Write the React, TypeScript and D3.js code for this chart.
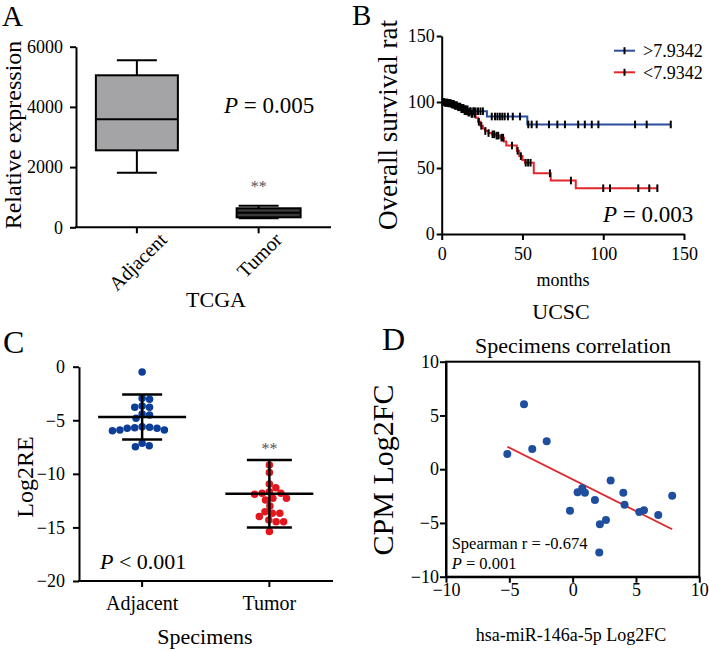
import React, { useEffect, useRef } from 'react';
import * as d3 from 'd3';

// ---------- Panel A: box plot (TCGA) ----------
const boxCategories = ['Adjacent', 'Tumor'];
const boxMin = [1814, 300];
const boxQ1 = [2557, 332];
const boxMedian = [3588, 485];
const boxQ3 = [5050, 632];
const boxMax = [5548, 718];
const boxYTicks = [0, 2000, 4000, 6000];

// ---------- Panel B: Kaplan-Meier (UCSC) ----------
const survLegend = ['>7.9342', '<7.9342'];
const highTimes = [0, 2, 4, 6, 8, 10, 12, 14, 17, 28, 53, 141.8];
const highSurv = [100, 99.5, 99, 98.5, 97.5, 96.5, 95.5, 94.5, 93, 89, 83, 83];
const lowTimes = [0, 2, 4, 6, 8, 10, 12, 14, 16, 18, 21, 22.5, 24, 25.5, 27, 29, 31, 33, 36, 38.5, 40, 46.5, 48, 50, 51.5, 57, 67.5, 83, 133.5];
const lowSurv = [100, 99.5, 99, 98, 97, 96, 94.5, 93, 92, 91, 88, 85, 82, 80, 78, 76.5, 75.5, 74.5, 73, 70, 67, 63, 59, 56, 54, 46, 40.5, 34.7, 34.7];
const highCensor = [0.5, 1, 1.5, 2, 2.5, 3, 3.5, 4, 4.5, 5, 5.5, 6, 7, 7.5, 8, 8.5, 9, 9.5, 10.5, 11, 11.5, 12.5, 13, 13.5, 14.5, 15, 16, 17.5, 18, 19.5, 20, 21, 22.5, 24, 25.5, 31, 33, 34.5, 36, 37.5, 39, 41, 44, 48.5, 53.6, 55.7, 58.8, 66.4, 71.6, 76.3, 84.5, 88.6, 92.9, 97, 119.7, 126.9, 141.8];
const lowCensor = [0.8, 1.3, 2.2, 3, 3.8, 5, 5.8, 6.5, 7.3, 8.2, 9.5, 10.2, 11, 12.2, 12.8, 13.5, 14.2, 15, 15.6, 16.5, 17, 18.5, 19, 20.5, 23, 24.5, 27, 29, 31.5, 32.5, 34, 35, 37, 38, 43.5, 47, 49, 52, 53.5, 55, 67, 80, 100, 104.2, 121.7, 128.5, 133.5];
const survTicks = [0, 50, 100, 150];

// ---------- Panel C: scatter dot plot (Specimens) ----------
const scatterCategories = ['Adjacent', 'Tumor'];
const adjacentValues = [-0.5, -3.04, -2.95, -3.79, -3.79, -3.67, -4.41, -4.5, -4.82, -5.69, -5.75, -5.9, -5.97, -5.9, -5.75, -5.66, -5.6, -7.15, -7.46, -7.37];
const tumorValues = [-9.17, -9.88, -10.94, -11.66, -11.81, -11.9, -11.81, -11.29, -12.28, -12.28, -12.43, -13.0, -13.53, -13.68, -13.99, -13.68, -14.3, -14.46, -14.46, -15.39];
const groupMeans = [-4.7, -11.85];
const groupSDs = [2.1, 3.15];
const scatterYTicks = [0, -5, -10, -15, -20];

// ---------- Panel D: correlation ----------
const corrX = [-5.16, -3.84, -3.19, -2.05, -0.21, 0.39, 0.76, 0.97, 1.76, 2.15, 2.1, 2.63, 3, 4, 4.1, 5.26, 5.63, 6.76, 7.86];
const corrY = [1.41, 6.04, 1.88, 2.59, -3.86, -2.15, -1.78, -2.18, -2.87, -5.13, -7.76, -4.73, -1.04, -2.18, -3.3, -3.98, -3.83, -4.26, -2.46];
const fitIntercept = -0.95;
const fitSlope = -0.59;
const corrTicks = [-10, -5, 0, 5, 10];

const FONT = '"Liberation Serif", "Times New Roman", Times, serif';

function survAt(times: number[], surv: number[], t: number) {
  let s = surv[0];
  for (let i = 0; i < times.length; i++) if (times[i] <= t) s = surv[i];
  return s;
}

function dodge(ys: number[], r: number) {
  const placed: { x: number; y: number }[] = [];
  const sorted = [...ys].sort((a, b) => a - b);
  for (const y of sorted) {
    const cands = [0];
    for (const p of placed) {
      const dy = Math.abs(p.y - y);
      if (dy < 2 * r) {
        const dx = Math.sqrt(4 * r * r - dy * dy);
        cands.push(p.x + dx, p.x - dx);
      }
    }
    cands.sort((a, b) => Math.abs(a) - Math.abs(b));
    for (const c of cands) {
      if (placed.every((p) => (p.x - c) ** 2 + (p.y - y) ** 2 >= 4 * r * r - 1e-3)) {
        placed.push({ x: c, y });
        break;
      }
    }
  }
  return placed;
}

export default function App() {
  const ref = useRef<SVGSVGElement>(null);

  useEffect(() => {
    const root = d3.select(ref.current!);
    root.selectAll('*').remove();
    const svg = root.append('g').attr('font-family', FONT).attr('fill', '#000');

    const text = (x: number, y: number, s: string, size: number, anchor = 'start') =>
      svg.append('text').attr('x', x).attr('y', y).attr('font-size', size).attr('text-anchor', anchor).text(s);

    const pText = (x: number, y: number, rest: string, size: number) => {
      const t = svg.append('text').attr('x', x).attr('y', y).attr('font-size', size);
      t.append('tspan').attr('font-style', 'italic').text('P');
      t.append('tspan').text(rest);
      return t;
    };

    const line = (x1: number, y1: number, x2: number, y2: number, w = 2, c = '#000') =>
      svg.append('line').attr('x1', x1).attr('y1', y1).attr('x2', x2).attr('y2', y2).attr('stroke', c).attr('stroke-width', w);

    const styleAxis = (g: any, size: number) => {
      g.attr('font-family', FONT).attr('font-size', size);
      g.selectAll('path.domain').attr('stroke', '#000').attr('stroke-width', 2);
      g.selectAll('.tick line').attr('stroke', '#000').attr('stroke-width', 2);
      g.selectAll('.tick text').attr('fill', '#000');
    };

    const rotLabel = (x: number, y: number, s: string, size: number) =>
      svg.append('text').attr('x', x).attr('y', y).attr('font-size', size).attr('text-anchor', 'middle')
        .attr('transform', `rotate(-90,${x},${y})`).text(s);

    // ================= Panel A =================
    const yA = d3.scaleLinear().domain([0, 6000]).range([227.3, 46.7]);
    const xA = d3.scalePoint<string>().domain(boxCategories).range([76, 319.5]).padding(0.5);
    const gAy = svg.append('g').attr('transform', 'translate(76,0)')
      .call(d3.axisLeft(yA).tickValues(boxYTicks).tickFormat(d3.format('d')).tickSize(6).tickPadding(7).tickSizeOuter(0));
    styleAxis(gAy, 18);
    line(75, yA(0), 331, yA(0));
    const boxHalf = [41, 32];
    const boxShift = [0, 10];
    const boxFill = ['#a4a4a6', '#3a3a3a'];
    boxCategories.forEach((c, i) => {
      const cx = xA(c)!;
      line(cx, yA(0), cx, yA(0) + 6);
      line(cx, yA(boxMax[i]), cx, yA(boxQ3[i]));
      line(cx, yA(boxQ1[i]), cx, yA(boxMin[i]));
      line(cx - 20, yA(boxMax[i]), cx + 20, yA(boxMax[i]));
      line(cx - 20, yA(boxMin[i]), cx + 20, yA(boxMin[i]));
      const bx = cx + boxShift[i];
      svg.append('rect').attr('x', bx - boxHalf[i]).attr('width', boxHalf[i] * 2)
        .attr('y', yA(boxQ3[i])).attr('height', yA(boxQ1[i]) - yA(boxQ3[i]))
        .attr('fill', boxFill[i]).attr('stroke', '#000').attr('stroke-width', 2);
      line(bx - boxHalf[i], yA(boxMedian[i]), bx + boxHalf[i], yA(boxMedian[i]));
      const t = svg.append('text').attr('font-size', 20).attr('text-anchor', 'middle').attr('dy', '0.33em').text(c);
      const L = (t.node() as SVGTextElement).getComputedTextLength();
      const lx = cx + 1;
      const ly = yA(0) + 9 + L * 0.3536;
      t.attr('x', lx).attr('y', ly).attr('transform', `rotate(-45,${lx},${ly})`);
    });
    text(xA('Tumor')!, 192, '**', 16, 'middle').attr('fill', '#555');
    pText(224, 113, ' = 0.005', 23);
    rotLabel(21, 135, 'Relative expression', 24);
    text(216, 306.7, 'TCGA', 22, 'middle');
    text(2, 26, 'A', 29);

    // ================= Panel B =================
    const xB = d3.scaleLinear().domain([0, 150]).range([441.7, 684]);
    const yB = d3.scaleLinear().domain([0, 150]).range([234, 36]);
    const gBy = svg.append('g').attr('transform', 'translate(441.7,0)')
      .call(d3.axisLeft(yB).tickValues(survTicks).tickSize(5).tickPadding(2).tickSizeOuter(0));
    styleAxis(gBy, 18);
    const gBx = svg.append('g').attr('transform', `translate(0,${yB(0)})`)
      .call(d3.axisBottom(xB).tickValues(survTicks).tickSize(6).tickPadding(7).tickSizeOuter(0));
    styleAxis(gBx, 18);

    const stepLine = d3.line<[number, number]>().x((d) => xB(d[0])).y((d) => yB(d[1])).curve(d3.curveStepAfter);
    const series = [
      { times: highTimes, surv: highSurv, censor: highCensor, color: '#2a4f9f' },
      { times: lowTimes, surv: lowSurv, censor: lowCensor, color: '#e3262c' },
    ];
    series.forEach((s) => {
      const pts = s.times.map((t, i) => [t, s.surv[i]] as [number, number]);
      svg.append('path').attr('d', stepLine(pts)!).attr('fill', 'none').attr('stroke', s.color).attr('stroke-width', 2);
    });
    series.forEach((s) => {
      s.censor.forEach((t) => {
        const y = yB(survAt(s.times, s.surv, t));
        line(xB(t), y - 3.8, xB(t), y + 3.8, 2);
      });
    });
    survLegend.forEach((lab, i) => {
      const y = 50.7 + i * 21.6;
      line(614, y, 635, y, 2, series[i].color);
      line(624.5, y - 3.5, 624.5, y + 3.5, 2);
      text(643, y + 6.3, lab, 18);
    });
    pText(603, 221.7, ' = 0.003', 23);
    text(563, 286, 'months', 18, 'middle');
    text(561, 319, 'UCSC', 22, 'middle');
    rotLabel(397, 125, 'Overall survival rat', 27);
    text(352, 25, 'B', 29);

    // ================= Panel C =================
    const yC = d3.scaleLinear().domain([-20, 0]).range([581, 366.7]);
    const xC = d3.scalePoint<string>().domain(scatterCategories).range([78.5, 333]).padding(0.5);
    const gCy = svg.append('g').attr('transform', 'translate(79,0)')
      .call(d3.axisLeft(yC).tickValues(scatterYTicks).tickSize(6).tickPadding(8).tickSizeOuter(0));
    styleAxis(gCy, 18);
    line(78, yC(-20), 333, yC(-20));
    const groups = [
      { values: adjacentValues, color: '#0c3d97' },
      { values: tumorValues, color: '#e3161d' },
    ];
    const r = 3.75;
    scatterCategories.forEach((c, i) => {
      const cx = xC(c)!;
      line(cx, yC(-20), cx, yC(-20) + 6);
      text(cx, 610, c, 20, 'middle');
      const pos = dodge(groups[i].values.map((v) => yC(v)), r);
      svg.append('g').selectAll('circle').data(pos).join('circle')
        .attr('cx', (d) => cx + d.x).attr('cy', (d) => d.y).attr('r', r).attr('fill', groups[i].color);
    });
    const capHalf = [20, 22.5];
    scatterCategories.forEach((c, i) => {
      const cx = xC(c)!;
      const m = groupMeans[i];
      const sd = groupSDs[i];
      line(cx, yC(m + sd), cx, yC(m - sd), 2.5);
      line(cx - 44, yC(m), cx + 44, yC(m), 2.5);
      line(cx - capHalf[i], yC(m + sd), cx + capHalf[i], yC(m + sd), 2.5);
      line(cx - capHalf[i], yC(m - sd), cx + capHalf[i], yC(m - sd), 2.5);
    });
    text(xC('Tumor')!, 454, '**', 16, 'middle').attr('fill', '#555');
    pText(100, 569, ' < 0.001', 22);
    rotLabel(33, 477, 'Log2RE', 24);
    text(205, 644, 'Specimens', 22, 'middle');
    text(3, 353, 'C', 32);

    // ================= Panel D =================
    const xD = d3.scaleLinear().domain([-10, 10]).range([446, 699.3]);
    const yD = d3.scaleLinear().domain([-10, 10]).range([576.7, 361.7]);
    svg.append('rect').attr('x', xD(-10)).attr('y', yD(10)).attr('width', xD(10) - xD(-10)).attr('height', yD(-10) - yD(10))
      .attr('fill', 'none').attr('stroke', '#000').attr('stroke-width', 2);
    const gDy = svg.append('g').attr('transform', `translate(${xD(-10)},0)`)
      .call(d3.axisLeft(yD).tickValues(corrTicks).tickSize(6).tickPadding(1).tickSizeOuter(0));
    styleAxis(gDy, 18);
    const gDx = svg.append('g').attr('transform', `translate(0,${yD(-10)})`)
      .call(d3.axisBottom(xD).tickValues(corrTicks).tickSize(6).tickPadding(1).tickSizeOuter(0));
    styleAxis(gDx, 18);
    const x0 = d3.min(corrX)!;
    const x1 = d3.max(corrX)!;
    line(xD(x0), yD(fitIntercept + fitSlope * x0), xD(x1), yD(fitIntercept + fitSlope * x1), 1.8, '#e0262b');
    svg.append('g').selectAll('circle').data(corrX).join('circle')
      .attr('cx', (d) => xD(d)).attr('cy', (_d, i) => yD(corrY[i])).attr('r', 4).attr('fill', '#1f4e9f');
    text(451.7, 548.5, 'Spearman r = -0.674', 16.5);
    pText(451.7, 569, ' = 0.001', 16.5);
    rotLabel(393, 470, 'CPM Log2FC', 30);
    text(571, 641, 'hsa-miR-146a-5p Log2FC', 18, 'middle');
    text(573, 353, 'Specimens correlation', 22, 'middle');
    text(382, 350, 'D', 32);
  }, []);

  return (
    <svg
      ref={ref}
      width={709}
      height={651}
      viewBox="0 0 709 651"
      style={{ position: 'absolute', left: 0, top: 0, background: '#fff' }}
    />
  );
}
